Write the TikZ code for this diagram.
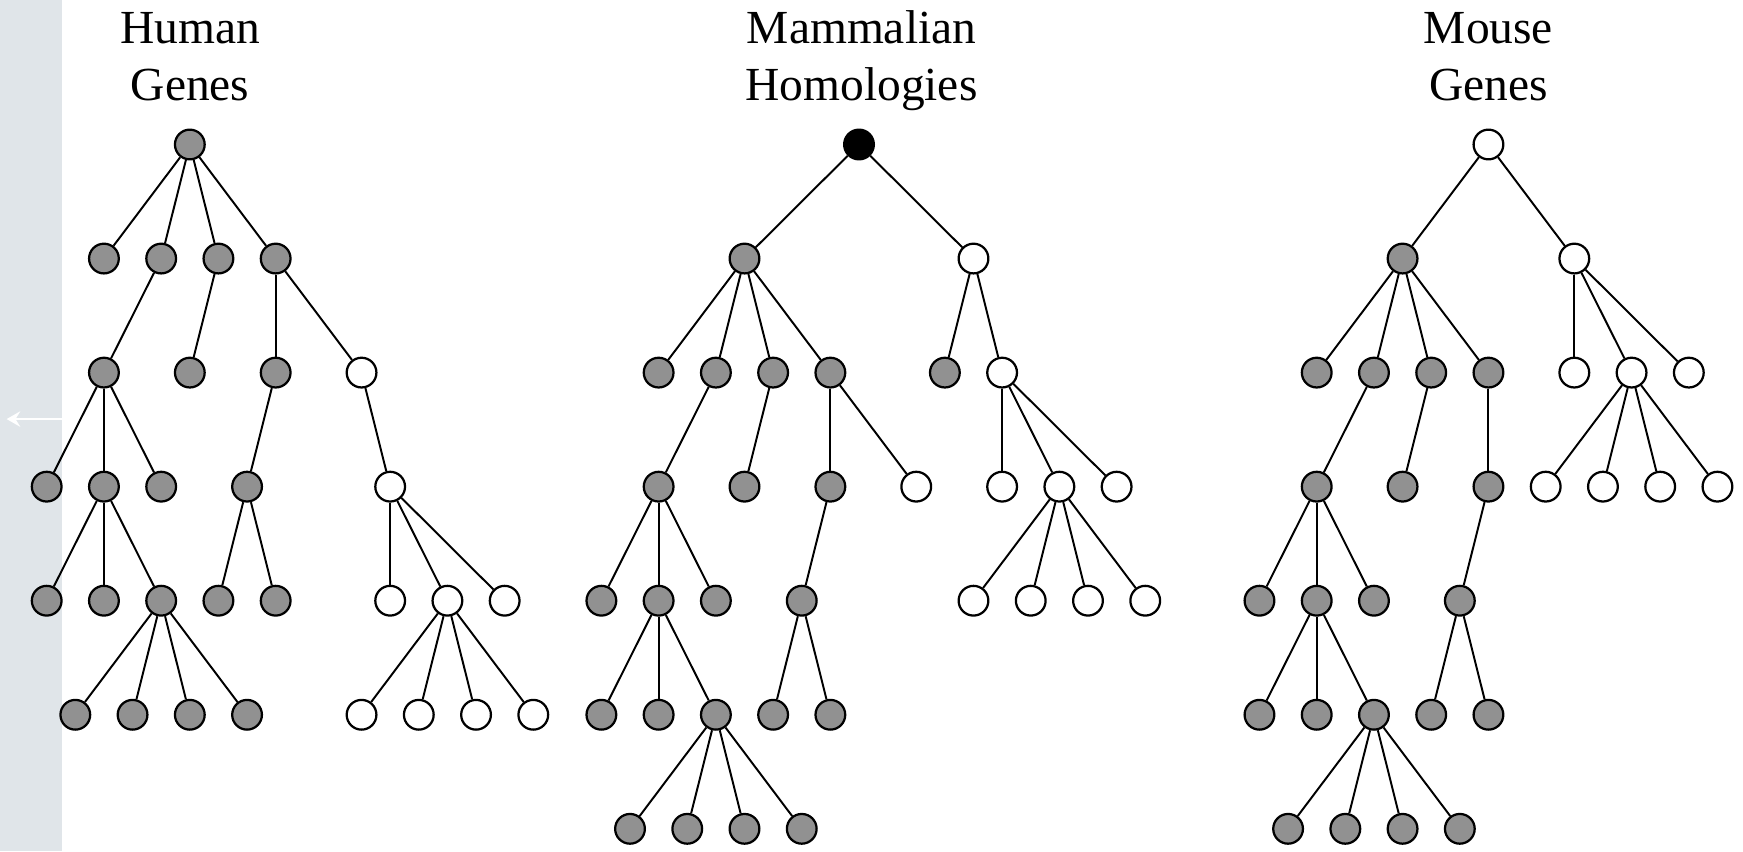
\documentclass[tikz,border=0pt]{standalone}
\usepackage{fontspec}
\setmainfont{Liberation Serif}
\usetikzlibrary{arrows.meta}

\definecolor{nodegray}{RGB}{145,145,145}
\definecolor{stripgray}{RGB}{224,229,233}

% place a tree node: style, tree prefix, column, row, x origin of the tree
\newcommand\placenode[5]{%
  \node[#1] (#2-#3-#4) at ({#5+#3*25.75}, {130+#4*102.6}) {};}

\tikzset{
  tnode/.style={circle, draw=black, line width=1.15pt, minimum size=0.535cm, inner sep=0pt},
  gnode/.style={tnode, fill=nodegray},
  wnode/.style={tnode, fill=white},
  bnode/.style={tnode, fill=black},
  link/.style={line width=1pt, draw=black},
  title/.style={font=\fontsize{24.3}{29}\selectfont, anchor=base, inner sep=0pt},
}

\begin{document}
\begin{tikzpicture}[x=0.02cm, y=-0.02cm]
\useasboundingbox (0,0) rectangle (1568,766);

% side strip with its arrow
\fill[stripgray] (0,0) rectangle (55.5,766);
\coordinate (arrS) at (55.5,377);
\coordinate (arrE) at (6,377);
\draw[white, line width=1pt, -{Stealth[length=7pt, width=8pt, inset=2.5pt]}] (arrS) -- (arrE);

% titles
\node[title] (ht1) at (171,39) {Human};
\node[title] (ht2) at (171,90) {Genes};
\node[title] (mt1) at (775,39) {Mammalian};
\node[title] (mt2) at (775,90) {Homologies};
\node[title] (st1) at (1339,39) {Mouse};
\node[title] (st2) at (1339,90) {Genes};

% ---------- human genes ----------
\placenode{gnode}{h}{5}{0}{42}
\foreach \c in {2,4,6,8} {\placenode{gnode}{h}{\c}{1}{42}}
\foreach \c in {2,5,8} {\placenode{gnode}{h}{\c}{2}{42}}
\placenode{wnode}{h}{11}{2}{42}
\foreach \c in {0,2,4,7} {\placenode{gnode}{h}{\c}{3}{42}}
\placenode{wnode}{h}{12}{3}{42}
\foreach \c in {0,2,4,6,8} {\placenode{gnode}{h}{\c}{4}{42}}
\foreach \c in {12,14,16} {\placenode{wnode}{h}{\c}{4}{42}}
\foreach \c in {1,3,5,7} {\placenode{gnode}{h}{\c}{5}{42}}
\foreach \c in {11,13,15,17} {\placenode{wnode}{h}{\c}{5}{42}}

\foreach \c in {2,4,6,8} {\draw[link] (h-5-0) -- (h-\c-1);}
\draw[link] (h-4-1) -- (h-2-2);
\draw[link] (h-6-1) -- (h-5-2);
\draw[link] (h-8-1) -- (h-8-2);
\draw[link] (h-8-1) -- (h-11-2);
\foreach \c in {0,2,4} {\draw[link] (h-2-2) -- (h-\c-3);}
\draw[link] (h-8-2) -- (h-7-3);
\draw[link] (h-11-2) -- (h-12-3);
\foreach \c in {0,2,4} {\draw[link] (h-2-3) -- (h-\c-4);}
\foreach \c in {6,8} {\draw[link] (h-7-3) -- (h-\c-4);}
\foreach \c in {12,14,16} {\draw[link] (h-12-3) -- (h-\c-4);}
\foreach \c in {1,3,5,7} {\draw[link] (h-4-4) -- (h-\c-5);}
\foreach \c in {11,13,15,17} {\draw[link] (h-14-4) -- (h-\c-5);}

% ---------- mammalian homologies ----------
\placenode{bnode}{m}{9}{0}{541}
\placenode{gnode}{m}{5}{1}{541}
\placenode{wnode}{m}{13}{1}{541}
\foreach \c in {2,4,6,8,12} {\placenode{gnode}{m}{\c}{2}{541}}
\placenode{wnode}{m}{14}{2}{541}
\foreach \c in {2,5,8} {\placenode{gnode}{m}{\c}{3}{541}}
\foreach \c in {11,14,16,18} {\placenode{wnode}{m}{\c}{3}{541}}
\foreach \c in {0,2,4,7} {\placenode{gnode}{m}{\c}{4}{541}}
\foreach \c in {13,15,17,19} {\placenode{wnode}{m}{\c}{4}{541}}
\foreach \c in {0,2,4,6,8} {\placenode{gnode}{m}{\c}{5}{541}}
\foreach \c in {1,3,5,7} {\placenode{gnode}{m}{\c}{6}{541}}

\draw[link] (m-9-0) -- (m-5-1);
\draw[link] (m-9-0) -- (m-13-1);
\foreach \c in {2,4,6,8} {\draw[link] (m-5-1) -- (m-\c-2);}
\foreach \c in {12,14} {\draw[link] (m-13-1) -- (m-\c-2);}
\draw[link] (m-4-2) -- (m-2-3);
\draw[link] (m-6-2) -- (m-5-3);
\draw[link] (m-8-2) -- (m-8-3);
\draw[link] (m-8-2) -- (m-11-3);
\foreach \c in {14,16,18} {\draw[link] (m-14-2) -- (m-\c-3);}
\foreach \c in {0,2,4} {\draw[link] (m-2-3) -- (m-\c-4);}
\draw[link] (m-8-3) -- (m-7-4);
\foreach \c in {13,15,17,19} {\draw[link] (m-16-3) -- (m-\c-4);}
\foreach \c in {0,2,4} {\draw[link] (m-2-4) -- (m-\c-5);}
\foreach \c in {6,8} {\draw[link] (m-7-4) -- (m-\c-5);}
\foreach \c in {1,3,5,7} {\draw[link] (m-4-5) -- (m-\c-6);}

% ---------- mouse genes ----------
\placenode{wnode}{s}{8}{0}{1133}
\placenode{gnode}{s}{5}{1}{1133}
\placenode{wnode}{s}{11}{1}{1133}
\foreach \c in {2,4,6,8} {\placenode{gnode}{s}{\c}{2}{1133}}
\foreach \c in {11,13,15} {\placenode{wnode}{s}{\c}{2}{1133}}
\foreach \c in {2,5,8} {\placenode{gnode}{s}{\c}{3}{1133}}
\foreach \c in {10,12,14,16} {\placenode{wnode}{s}{\c}{3}{1133}}
\foreach \c in {0,2,4,7} {\placenode{gnode}{s}{\c}{4}{1133}}
\foreach \c in {0,2,4,6,8} {\placenode{gnode}{s}{\c}{5}{1133}}
\foreach \c in {1,3,5,7} {\placenode{gnode}{s}{\c}{6}{1133}}

\draw[link] (s-8-0) -- (s-5-1);
\draw[link] (s-8-0) -- (s-11-1);
\foreach \c in {2,4,6,8} {\draw[link] (s-5-1) -- (s-\c-2);}
\foreach \c in {11,13,15} {\draw[link] (s-11-1) -- (s-\c-2);}
\draw[link] (s-4-2) -- (s-2-3);
\draw[link] (s-6-2) -- (s-5-3);
\draw[link] (s-8-2) -- (s-8-3);
\foreach \c in {10,12,14,16} {\draw[link] (s-13-2) -- (s-\c-3);}
\foreach \c in {0,2,4} {\draw[link] (s-2-3) -- (s-\c-4);}
\draw[link] (s-8-3) -- (s-7-4);
\foreach \c in {0,2,4} {\draw[link] (s-2-4) -- (s-\c-5);}
\foreach \c in {6,8} {\draw[link] (s-7-4) -- (s-\c-5);}
\foreach \c in {1,3,5,7} {\draw[link] (s-4-5) -- (s-\c-6);}
\end{tikzpicture}
\end{document}
